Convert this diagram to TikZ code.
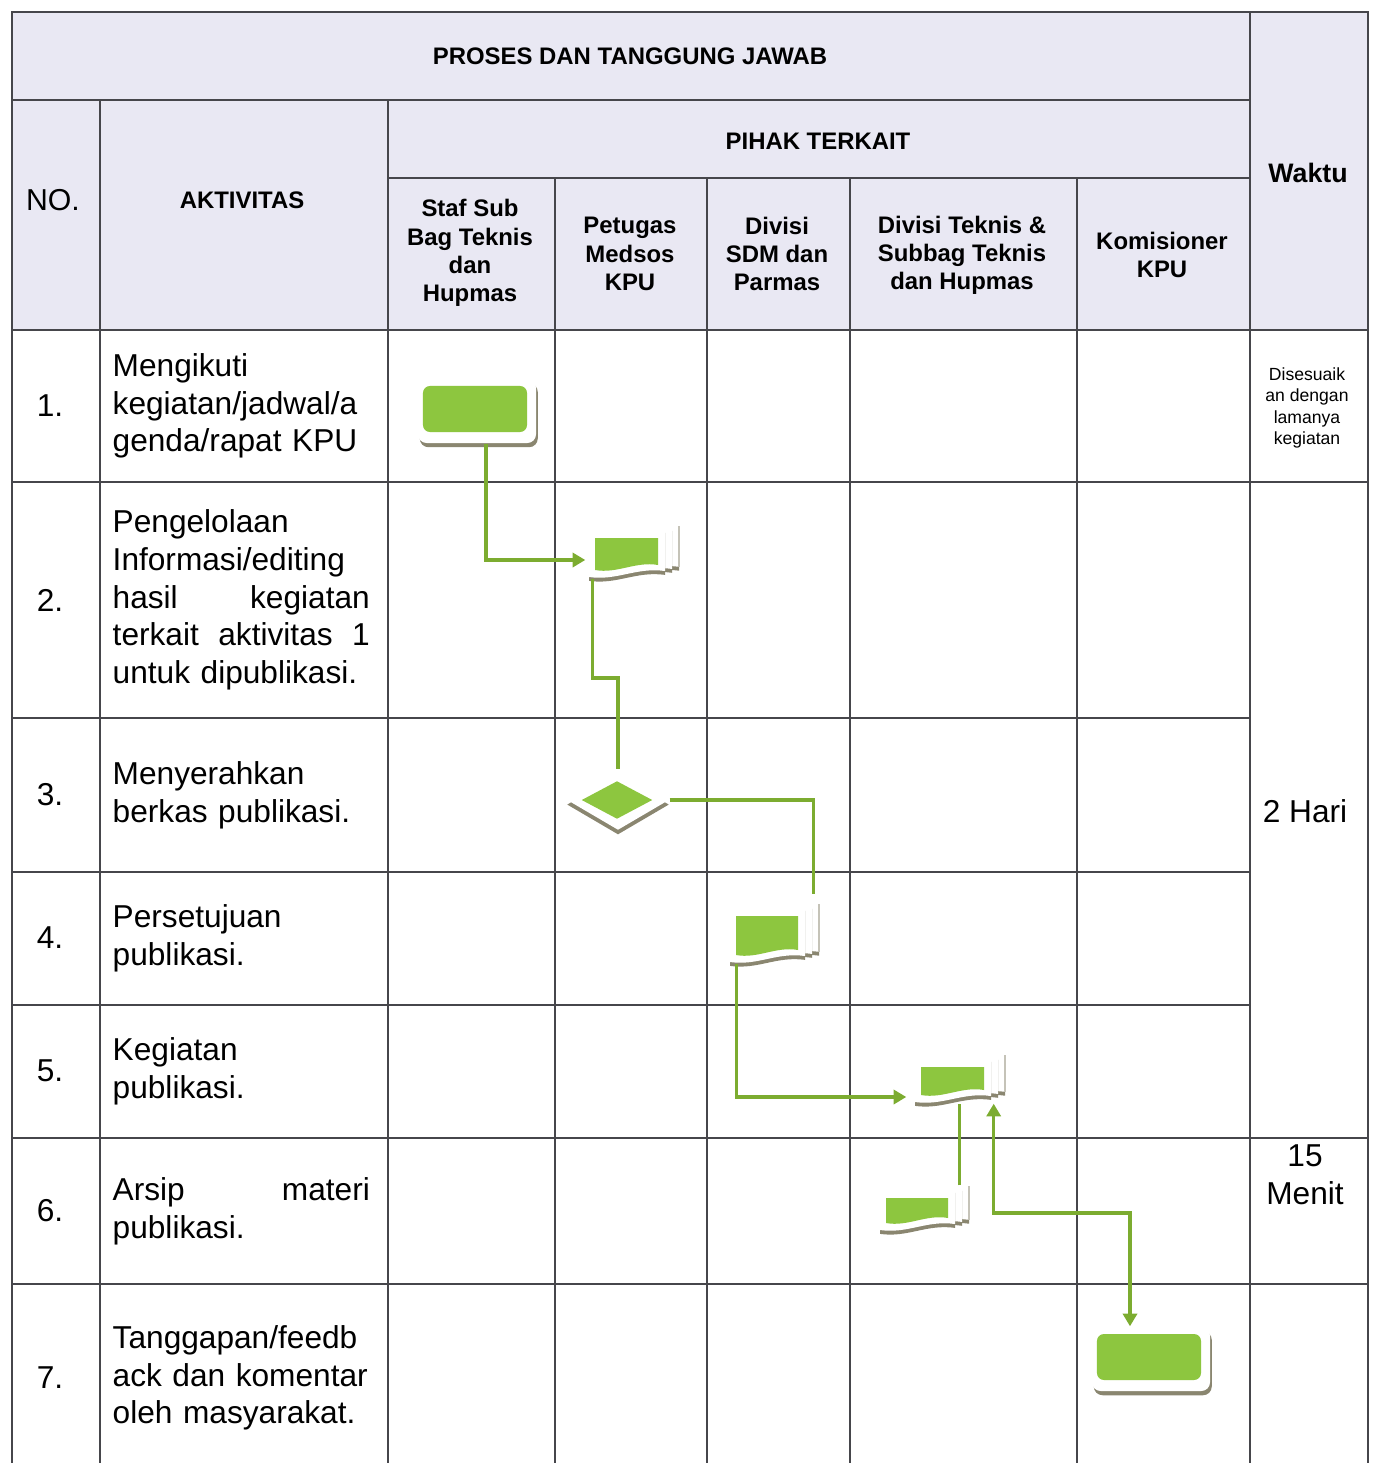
\documentclass[tikz,border=0pt]{standalone}
\usepackage{fontspec}
\setmainfont{Liberation Sans}
\usetikzlibrary{arrows.meta,calc,shadows,shapes.geometric}
\definecolor{hdrbg}{RGB}{233,232,243}
\definecolor{boxgreen}{RGB}{141,198,63}
\definecolor{linegreen}{RGB}{124,172,48}
\definecolor{shadowgray}{RGB}{138,134,112}
\definecolor{gridcol}{RGB}{70,70,75}

% document symbol: name, x, y, half width, half height (of the green part)
\newcommand\docshape[5]{%
  \begin{scope}[shift={(#2,#3)}]
    \foreach \s in {14,7,0}
      \fill[white, drop shadow={shadow xshift=0pt, shadow yshift=-1.1pt, fill=shadowgray, opacity=1}]
        (-#4-6+\s,-#5-9-\s*0.3) -- (#4+7+\s,-#5-9-\s*0.3) -- (#4+7+\s,#5+1-\s*0.3)
        .. controls (0.3*#4+\s,#5-3-\s*0.3) and (-0.3*#4+\s,#5+11-\s*0.3) .. (-#4-6+\s,#5+7-\s*0.3) -- cycle;
    \draw[shadowgray!50, line width=0.3pt] (#4+21,-#5-12) -- (#4+21,#5-3);
    \fill[boxgreen] (-#4,-#5) -- (#4,-#5) -- (#4,#5-5)
      .. controls (0.3*#4,#5-9) and (-0.3*#4,#5+4) .. (-#4,#5) -- cycle;
  \end{scope}
  \node[docnode, minimum width={(2*#4+14)*0.01cm}, minimum height={(2*#5+16)*0.01cm}] (#1) at (#2+1,#3) {};
}

\begin{document}
\begin{tikzpicture}[
  x=0.01cm, y=-0.01cm,
  grid/.style={draw=gridcol, line width=0.5pt},
  hdr/.style={font=\bfseries\fontsize{6.8}{8}\selectfont, align=center, inner sep=0pt},
  rowtxt/.style={font=\fontsize{9}{10.7}\selectfont, align=center, inner sep=0pt},
  act/.style={font=\fontsize{9}{10.7}\selectfont, anchor=west, text width=2.57cm, align=left, inner sep=0pt},
  procout/.style={rectangle, rounded corners=2.5pt, fill=white, minimum width=1.18cm, minimum height=0.64cm, inner sep=0pt,
    drop shadow={shadow xshift=0.5pt, shadow yshift=-1.2pt, fill=shadowgray, opacity=1}},
  procin/.style={rectangle, rounded corners=2pt, fill=boxgreen, minimum width=1.04cm, minimum height=0.46cm, inner sep=0pt},
  docnode/.style={rectangle, inner sep=0pt},
  flow/.style={draw=linegreen, line width=0.95pt, -{Triangle[length=3.6pt,width=4pt]}},
  plain/.style={draw=linegreen, line width=0.95pt}
]
  \useasboundingbox (0,0) rectangle (1378,1463);
  % kepala tabel
  \fill[hdrbg] (12,12) rectangle (1368,330);
  \draw[grid] (12,1463) -- (12,12) -- (1368,12) -- (1368,1463);
  \draw[grid] (12,100) -- (1250,100);
  \draw[grid] (388,178) -- (1250,178);
  \draw[grid] (12,330) -- (1368,330);
  \draw[grid] (1250,12) -- (1250,1463);
  \foreach \x in {100,388} \draw[grid] (\x,100) -- (\x,1463);
  \foreach \x in {555,707,850,1077} \draw[grid] (\x,178) -- (\x,1463);
  \foreach \y in {718,872,1005} \draw[grid] (12,\y) -- (1250,\y);
  \foreach \y in {482,1138,1284} \draw[grid] (12,\y) -- (1368,\y);

  \node[hdr] (proses) at (630,56) {PROSES DAN TANGGUNG JAWAB};
  \node[hdr, font=\fontsize{8.6}{10}\selectfont] (no) at (53,200) {NO.};
  \node[hdr] (aktivitas) at (242,200) {AKTIVITAS};
  \node[hdr] (pihak) at (818,141) {PIHAK TERKAIT};
  \node[hdr, font=\bfseries\fontsize{7.6}{9}\selectfont] (waktu) at (1308,173) {Waktu};
  \node[hdr] (h1) at (470,253) {Staf Sub\\Bag Teknis\\dan\\Hupmas};
  \node[hdr] (h2) at (630,254) {Petugas\\Medsos\\KPU};
  \node[hdr] (h3) at (777,254) {Divisi\\SDM dan\\Parmas};
  \node[hdr] (h4) at (962,255) {Divisi Teknis \&\\Subbag Teknis\\dan Hupmas};
  \node[hdr] (h5) at (1162,255) {Komisioner\\KPU};

  % nomor dan aktivitas
  \foreach \n/\y in {1/406, 2/600, 3/795, 4/938, 5/1071, 6/1211, 7/1378}
    \node[rowtxt] (no\n) at (50,\y) {\n.};
  \node[act] (a1) at (112,406) {Mengikuti\\kegiatan/jadwal/a\\genda/rapat KPU};
  \node[act] (a2) at (112,600) {Pengelolaan\\Informasi/editing\\hasil\hfill kegiatan\\terkait\hfill aktivitas\hfill 1\\untuk dipublikasi.};
  \node[act] (a3) at (112,795) {Menyerahkan\\berkas publikasi.};
  \node[act] (a4) at (112,938) {Persetujuan\\publikasi.};
  \node[act] (a5) at (112,1071) {Kegiatan\\publikasi.};
  \node[act] (a6) at (112,1211) {Arsip\hfill materi\\publikasi.};
  \node[act] (a7) at (112,1378) {Tanggapan/feedb\\ack dan komentar\\oleh masyarakat.};

  % waktu
  \node[rowtxt, font=\fontsize{5}{6.05}\selectfont] (w1) at (1307,408) {Disesuaik\\an dengan\\lamanya\\kegiatan};
  \node[rowtxt] (w2) at (1305,811) {2 Hari};
  \node[rowtxt] (w3) at (1305,1175) {15\\Menit};

  % simbol alur
  \node[procout] (s1w) at (477,411) {};
  \node[procin] (s1) at (475,409) {};
  \docshape{d2}{626.5}{554}{31.5}{16}
  \node[diamond, fill=white, inner sep=0pt, minimum width=1.02cm, minimum height=0.6cm,
    drop shadow={shadow xshift=0pt, shadow yshift=-1.3pt, fill=shadowgray, opacity=1}] (d3w) at (618,800) {};
  \node[diamond, fill=boxgreen, inner sep=0pt, minimum width=0.71cm, minimum height=0.38cm] (d3) at (617,800) {};
  \docshape{d4}{767}{935.5}{31}{19.5}
  \docshape{d5}{952.5}{1081}{31.5}{14}
  \docshape{d6}{917}{1210.5}{31}{12.5}
  \node[procout] (s7w) at (1151,1359) {};
  \node[procin] (s7) at (1149,1357) {};

  % penghubung
  \draw[flow] ($(s1w.south)+(9,0)$) |- ($(d2.west)+(-3,6)$);
  \coordinate (k23) at (618,678);
  \draw[plain] ($(d2.south west)+(4,0)$) |- (k23) -- (k23 |- d3w.north);
  \draw[plain] (d3w.east) -| ($(d4.north east)+(7,-13)$);
  \draw[flow] ($(d4.south west)+(7,0)$) |- ($(d5.west)+(-8,16)$);
  \coordinate (k65) at ($(d6.north east)+(3,-4)$);
  \draw[plain] (k65) -- (k65 |- d5.south);
  \coordinate (k57) at (1130,1213);
  \draw[flow, {Triangle[length=3.6pt,width=4pt]}-{Triangle[length=3.6pt,width=4pt]}]
    ($(d5.south east)+(1,0)$) |- (k57) -- (k57 |- s7w.north);
\end{tikzpicture}
\end{document}
